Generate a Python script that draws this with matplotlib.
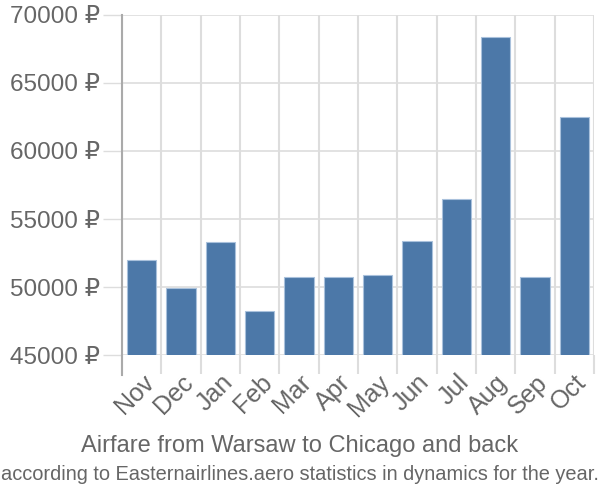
import matplotlib
matplotlib.use("Agg")
import matplotlib.pyplot as plt
import numpy as np

months = ["Nov", "Dec", "Jan", "Feb", "Mar", "Apr", "May", "Jun", "Jul", "Aug", "Sep", "Oct"]
prices = [52000, 49900, 53300, 48200, 50700, 50700, 50900, 53400, 56500, 68400, 50700, 62500]
y_ticks = [45000, 50000, 55000, 60000, 65000, 70000]

title = "Airfare from Warsaw to Chicago and back"
subtitle = "according to Easternairlines.aero statistics in dynamics for the year."

plt.rcParams['font.family'] = ['Liberation Sans', 'DejaVu Sans']
text_color = '#666666'
grid_color = '#dddddd'

fig = plt.figure(figsize=(6, 5), dpi=100)
ax = fig.add_axes([122 / 600, 1 - 355 / 500, 472 / 600, 340 / 500])

x = np.arange(len(months))
ax.bar(x, prices, width=0.74, bottom=0, color='#4c78a8', edgecolor='#a9c1dc',
       linewidth=0.8, zorder=3)

ax.set_xlim(-0.5, len(months) - 0.5)
ax.set_ylim(y_ticks[0], y_ticks[-1])

# y axis (tick length in points: 19 px at 100 dpi)
ax.set_yticks(y_ticks)
ax.set_yticklabels([f"{v} ₽" for v in y_ticks])
ax.tick_params(axis='y', length=13.7, width=1, color=grid_color, labelsize=17.5,
               labelcolor=text_color, pad=2)

# x axis: labels at centres, ticks/grid at boundaries
ax.set_xticks(x)
ax.set_xticklabels(months, rotation=45, ha='right', rotation_mode='anchor')
ax.tick_params(axis='x', which='major', length=0, labelsize=18, labelcolor=text_color, pad=11)
ax.set_xticks(np.arange(-0.5, len(months)), minor=True)
ax.tick_params(axis='x', which='minor', length=14, width=1.5, color=grid_color)

ax.grid(True, axis='y', which='major', color=grid_color, linewidth=1.2, zorder=0)
ax.grid(True, axis='x', which='minor', color=grid_color, linewidth=1.5, zorder=0)

for side in ['top', 'right', 'bottom']:
    ax.spines[side].set_visible(False)
ax.spines['left'].set_color('#aaaaaa')
ax.spines['left'].set_linewidth(1.5)
ax.spines['left'].set_bounds(y_ticks[0] - 1450, y_ticks[-1])
ax.spines['left'].set_zorder(4)

fig.text(0.5, 1 - 446 / 500, title, ha='center', va='center', fontsize=17, color=text_color)
fig.text(0.5, 1 - 474 / 500, subtitle, ha='center', va='center', fontsize=14.4,
         color=text_color)

fig.savefig("out.png", dpi=100)
